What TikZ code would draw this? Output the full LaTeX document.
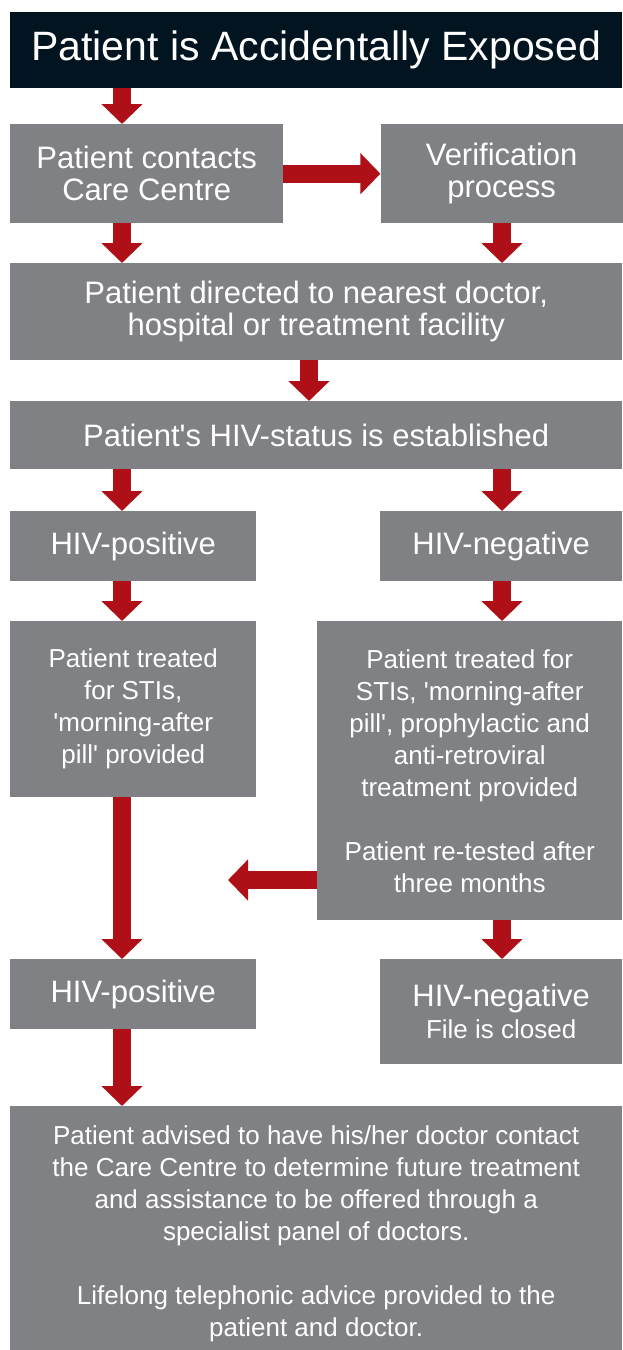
\documentclass[tikz,border=0pt]{standalone}
\usepackage{fontspec}
\setmainfont{Liberation Sans}
\usetikzlibrary{arrows.meta, positioning}

\definecolor{boxgray}{RGB}{128,129,133}
\definecolor{darknavy}{RGB}{2,20,31}
\definecolor{flowred}{RGB}{175,16,24}

\newcommand{\titlefont}{\fontsize{41}{44}\selectfont}
\newcommand{\headfont}{\fontsize{31}{32}\selectfont}
\newcommand{\bodyfont}{\fontsize{26}{32}\selectfont}

\begin{document}
\begin{tikzpicture}[x=1pt, y=1pt,
    box/.style={fill=boxgray, text=white, inner sep=0pt, align=center, font=\headfont},
    bodybox/.style={box, font=\bodyfont},
    titlebox/.style={box, fill=darknavy, font=\titlefont},
    flow/.style={color=flowred, line width=18pt, -{Triangle[width=40pt, length=20pt]}}]
        \useasboundingbox (0,0) rectangle (622,-1350);
        % arrow columns
        \coordinate (colL) at (122,0);
        \coordinate (colM) at (309,0);
        \coordinate (colR) at (502,0);

        % define boxes
        % title bar
        \node[titlebox, anchor=north west, minimum width=612pt, minimum height=76pt] (exposed) at (10,-12) {Patient is Accidentally Exposed};
        \node[box, anchor=north west, minimum width=273pt, minimum height=99pt] (contact) at (10,-124) {Patient contacts\\Care Centre};
        \node[box, minimum width=242pt, minimum height=99pt] (verify) [right=97pt of contact] {Verification\\process};
        \node[box, anchor=north west, minimum width=612pt, minimum height=97pt] (directed) at (10,-263) {Patient directed to nearest doctor,\\hospital or treatment facility};
        \node[box, anchor=north west, minimum width=612pt, minimum height=68pt] (status) at (10,-401) {Patient\textquotesingle s HIV-status is established};
        % first test result
        \node[box, anchor=north west, minimum width=246pt, minimum height=70pt] (pos) at (10,-511) {HIV-positive};
        \node[box, anchor=north west, minimum width=242pt, minimum height=70pt] (neg) at (380,-511) {HIV-negative};
        % treatment
        \node[bodybox, anchor=north west, minimum width=246pt, minimum height=176pt] (treatpos) at (10,-621) {Patient treated\\for STIs,\\\textquotesingle morning-after\\pill\textquotesingle\ provided};
        \node[bodybox, anchor=north west, minimum width=305pt, minimum height=299pt] (treatneg) at (317,-621) {Patient treated for\\STIs, \textquotesingle morning-after\\pill\textquotesingle, prophylactic and\\anti-retroviral\\treatment provided\\[32pt]Patient re-tested after\\three months};
        % re-test result
        \node[box, anchor=north west, minimum width=246pt, minimum height=70pt] (pos2) at (10,-959) {HIV-positive};
        \node[box, anchor=north west, minimum width=242pt, minimum height=105pt] (neg2) at (380,-959) {HIV-negative\\{\bodyfont File is closed}};
        % panel of doctors, runs past the bottom edge
        \node[bodybox, anchor=north west, minimum width=612pt, minimum height=256pt] (advice) at (10,-1106) {Patient advised to have his/her doctor contact\\the Care Centre to determine future treatment\\and assistance to be offered through a\\specialist panel of doctors.\\[32pt]Lifelong telephonic advice provided to the\\patient and doctor.};
        % free end of the re-test arrow
        \coordinate (back) at (228,-880);

        % define arrows
        \path[flow]
        (exposed.south -| colL) edge (contact.north -| colL)
        (contact) edge (verify)
        (contact.south -| colL) edge (directed.north -| colL)
        (verify.south -| colR) edge (directed.north -| colR)
        (directed.south -| colM) edge (status.north -| colM)
        (status.south -| colL) edge (pos.north -| colL)
        (status.south -| colR) edge (neg.north -| colR)
        (pos.south -| colL) edge (treatpos.north -| colL)
        (neg.south -| colR) edge (treatneg.north -| colR)
        (treatpos.south -| colL) edge (pos2.north -| colL) % straight down past the re-test
        (back -| treatneg.west) edge (back) % re-test positive
        (treatneg.south -| colR) edge (neg2.north -| colR)
        (pos2.south -| colL) edge (advice.north -| colL);
\end{tikzpicture}
\end{document}
